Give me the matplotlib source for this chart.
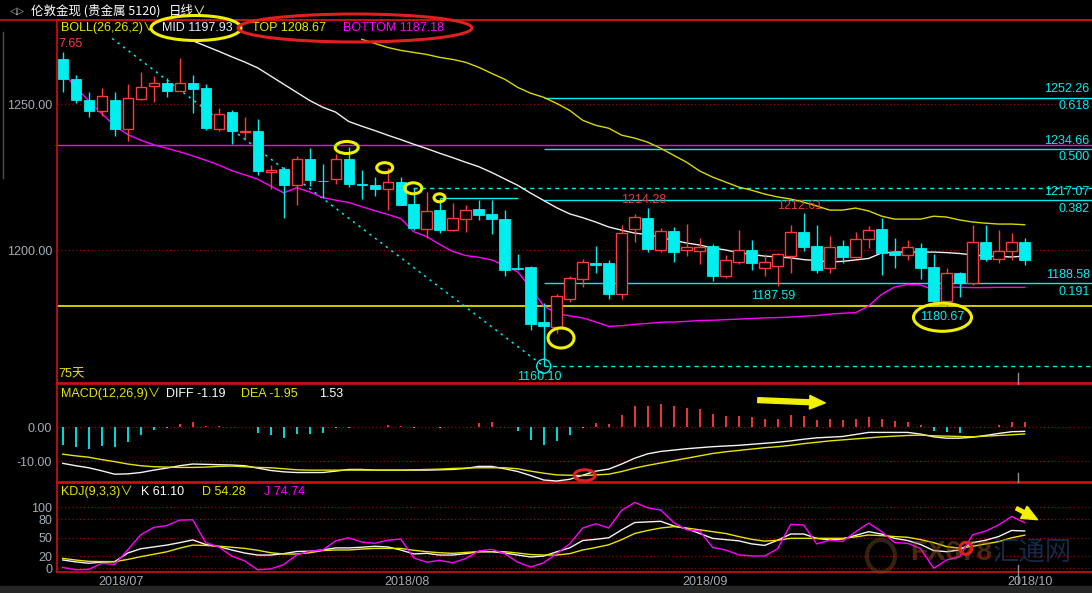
import matplotlib
matplotlib.use('Agg')
import matplotlib.pyplot as plt
from matplotlib.patches import Ellipse, Rectangle, FancyArrowPatch, Circle
from matplotlib.lines import Line2D
import numpy as np

plt.rcParams['font.family'] = ['Liberation Sans', 'Noto Sans CJK SC', 'DejaVu Sans']

# ---------------- data ----------------
opens = [1265.4, 1258.6, 1251.6, 1247.7, 1251.6, 1241.5, 1251.8, 1256.3, 1257.2, 1254.7,
         1257.4, 1255.5, 1241.5, 1247.3, 1240.5, 1240.7, 1226.6, 1227.7, 1222.4, 1231.2,
         1223.8, 1224.4, 1231.4, 1222.6, 1222.2, 1221.0, 1223.5, 1215.8, 1207.1, 1213.7,
         1206.9, 1210.8, 1214.0, 1212.3, 1210.6, 1193.9, 1194.2, 1175.2, 1173.5, 1183.1,
         1189.9, 1195.4, 1195.5, 1185.0, 1207.3, 1211.0, 1200.0, 1206.5, 1200.0, 1199.8,
         1201.4, 1191.1, 1195.9, 1200.0, 1193.9, 1194.6, 1198.0, 1206.1, 1201.4, 1193.8,
         1201.4, 1197.7, 1203.9, 1207.2, 1199.4, 1198.4, 1200.6, 1194.1, 1182.6, 1192.0,
         1188.6, 1202.6, 1197.0, 1199.6, 1202.6]
highs = [1267.9, 1259.9, 1254.1, 1255.5, 1254.1, 1257.0, 1261.0, 1259.6, 1258.9, 1265.8,
         1260.2, 1256.8, 1248.6, 1247.9, 1245.5, 1244.9, 1229.1, 1228.6, 1232.2, 1234.9,
         1229.5, 1233.1, 1235.4, 1227.3, 1224.9, 1228.3, 1224.9, 1221.3, 1219.8, 1217.9,
         1216.0, 1215.6, 1217.1, 1217.1, 1213.7, 1198.6, 1194.5, 1181.7, 1184.9, 1191.0,
         1196.9, 1201.4, 1196.6, 1208.6, 1212.3, 1214.28, 1207.4, 1207.8, 1208.9, 1204.0,
         1202.1, 1198.2, 1206.8, 1203.4, 1198.6, 1199.1, 1208.6, 1212.61, 1208.6, 1204.8,
         1203.4, 1206.2, 1208.2, 1211.0, 1204.0, 1203.3, 1202.3, 1198.6, 1193.7, 1192.5,
         1208.6, 1208.6, 1206.8, 1205.7, 1204.0]
lows = [1254.2, 1250.5, 1245.7, 1246.0, 1239.1, 1237.4, 1251.6, 1250.8, 1252.5, 1254.5,
        1247.0, 1241.3, 1240.9, 1236.4, 1237.6, 1225.7, 1220.8, 1211.1, 1215.5, 1222.1,
        1217.7, 1222.7, 1221.7, 1217.4, 1218.6, 1213.8, 1215.4, 1206.8, 1204.0, 1205.9,
        1206.5, 1206.3, 1210.3, 1205.6, 1191.2, 1193.1, 1172.6, 1160.10, 1171.5, 1182.2,
        1187.4, 1192.2, 1183.2, 1183.2, 1202.8, 1199.4, 1199.4, 1195.9, 1197.9, 1195.2,
        1189.5, 1190.5, 1195.2, 1193.2, 1191.0, 1187.59, 1192.2, 1199.8, 1192.0, 1192.2,
        1195.7, 1197.3, 1200.6, 1191.4, 1193.9, 1196.6, 1190.1, 1181.5, 1180.67, 1184.0,
        1188.0, 1196.2, 1195.4, 1196.6, 1195.0]
closes = [1258.6, 1251.4, 1247.6, 1253.0, 1241.5, 1252.3, 1256.1, 1257.4, 1254.6, 1257.4,
          1255.2, 1241.8, 1246.8, 1240.9, 1240.7, 1227.1, 1227.3, 1222.4, 1231.4, 1224.1,
          1223.6, 1231.4, 1222.5, 1222.4, 1221.0, 1223.5, 1215.4, 1207.6, 1213.3, 1206.8,
          1210.9, 1213.6, 1212.1, 1210.6, 1193.3, 1193.6, 1174.6, 1173.8, 1184.2, 1190.4,
          1195.9, 1195.0, 1185.0, 1205.7, 1211.2, 1200.3, 1206.5, 1199.3, 1200.9, 1200.9,
          1191.1, 1196.6, 1199.9, 1195.7, 1195.9, 1198.6, 1206.1, 1201.1, 1193.2, 1200.9,
          1197.7, 1203.7, 1206.7, 1199.1, 1198.4, 1200.9, 1193.8, 1182.6, 1192.0, 1188.6,
          1202.6, 1197.0, 1199.6, 1202.6, 1196.6]

boll_mid = [None] * 10 + [
    1271.8, 1270.0, 1268.2, 1266.3, 1264.5, 1262.5, 1259.7, 1256.9, 1254.1, 1251.3,
    1249.0, 1247.3, 1244.1, 1242.5, 1241.0, 1239.4, 1237.9, 1236.3, 1234.8, 1233.2,
    1231.7, 1230.1, 1228.6, 1226.6, 1224.4, 1222.2, 1219.5, 1217.0, 1214.5, 1212.4,
    1211.1, 1209.6, 1207.9, 1206.8, 1205.8, 1205.3, 1204.3, 1203.3, 1202.4, 1201.7,
    1200.7, 1200.0, 1199.1, 1198.5, 1197.9, 1197.6, 1197.3, 1196.7, 1196.4, 1195.9,
    1196.1, 1196.6, 1197.1, 1199.0, 1199.3, 1199.3, 1199.3, 1199.3, 1199.1, 1198.8,
    1198.3, 1197.9, 1197.8, 1197.6, 1197.93]
boll_top = [None] * 23 + [
    1272.3, 1270.9, 1269.5, 1268.5, 1267.8, 1267.1, 1266.1, 1265.4, 1264.4, 1262.7,
    1260.6, 1258.6, 1255.8, 1253.8, 1252.4, 1250.3, 1247.9, 1244.5, 1242.8, 1241.8,
    1239.4, 1238.4, 1237.0, 1234.9, 1232.5, 1230.1, 1227.1, 1225.0, 1223.3, 1221.6,
    1220.5, 1219.2, 1218.2, 1217.5, 1216.4, 1215.1, 1213.7, 1213.7, 1214.4, 1213.4,
    1211.6, 1210.6, 1210.6, 1210.6, 1211.6, 1211.3, 1210.3, 1209.6, 1209.2, 1208.9,
    1208.9, 1208.67]
boll_bot = [1261.1, 1255.8, 1251.2, 1246.8, 1242.6, 1239.6, 1237.7, 1236.1, 1234.9, 1233.7,
            1232.3, 1230.8, 1229.2, 1227.2, 1225.8, 1224.3, 1221.9, 1219.6, 1221.4, 1219.9,
            1218.0, 1217.1, 1216.3, 1214.9, 1213.5, 1212.2, 1210.8, 1206.3, 1204.6, 1201.9,
            1199.5, 1198.1, 1197.5, 1196.6, 1194.7, 1192.5, 1187.0, 1180.8, 1178.2, 1177.4,
            1176.7, 1175.3, 1173.8, 1174.0, 1174.5, 1174.8, 1175.2, 1175.3, 1175.5, 1175.8,
            1175.9, 1176.1, 1176.3, 1176.5, 1176.7, 1176.8, 1177.0, 1177.3, 1177.5, 1178.0,
            1178.3, 1178.5, 1180.8, 1184.8, 1187.3, 1188.2, 1188.0, 1186.3, 1187.3, 1187.2,
            1187.1, 1187.1, 1187.2, 1187.2, 1187.18]

macd_hist = [-5.2, -5.7, -6.4, -5.5, -5.7, -4.2, -2.4, -0.8, -0.1, 1.0,
             1.7, 0.5, 0.4, 0.1, 0.1, -1.6, -2.3, -3.0, -2.0, -2.1,
             -1.6, -0.2, -0.1, 0.1, 0.1, 0.7, 0.3, -0.3, 0.1, -0.3,
             0.0, 0.2, 1.2, 1.7, 0.0, -1.1, -3.7, -5.2, -4.0, -2.3,
             -0.1, 1.3, 1.0, 3.6, 6.3, 6.3, 6.9, 6.3, 5.7, 5.4,
             3.9, 3.3, 3.3, 3.0, 2.4, 2.4, 3.6, 3.3, 2.1, 2.4,
             2.1, 2.4, 3.0, 2.4, 1.9, 1.6, 0.7, -1.1, -1.4, -1.7,
             0.0, 0.2, 0.7, 1.6, 1.53]
diff = [-10.6, -11.3, -11.9, -12.8, -13.8, -13.7, -13.3, -12.6, -12.0, -11.3,
        -10.8, -10.9, -11.0, -11.1, -11.3, -12.0, -12.7, -13.1, -13.3, -13.3,
        -13.3, -12.9, -12.4, -12.4, -12.6, -12.6, -12.6, -12.6, -12.6, -12.5,
        -12.4, -12.1, -11.5, -11.5, -12.2, -13.0, -14.2, -15.5, -15.8, -15.3,
        -14.1, -12.9, -12.3, -10.8, -9.1, -7.8, -7.1, -6.7, -6.3, -6.0,
        -5.7, -5.5, -5.3, -5.0, -4.7, -4.4, -4.0, -3.5, -3.1, -2.9,
        -2.7, -2.1, -1.5, -1.5, -1.5, -1.5, -2.0, -2.8, -3.2, -3.2,
        -2.9, -2.4, -1.8, -1.3, -1.19]
dea = [-7.9, -8.4, -8.8, -9.5, -10.1, -10.8, -11.3, -11.6, -11.7, -11.8,
       -11.8, -11.7, -11.5, -11.4, -11.6, -11.8, -11.9, -12.2, -12.5, -12.6,
       -12.6, -12.6, -12.6, -12.6, -12.6, -12.6, -12.6, -12.5, -12.4, -12.3,
       -12.1, -12.0, -11.9, -11.9, -11.9, -12.2, -12.9, -13.5, -14.0, -14.1,
       -14.2, -14.0, -13.8, -13.0, -12.0, -11.2, -10.5, -9.8, -9.1, -8.4,
       -7.7, -7.2, -6.8, -6.4, -6.0, -5.7, -5.3, -4.8, -4.4, -4.0,
       -3.7, -3.4, -3.1, -2.8, -2.6, -2.4, -2.3, -2.5, -2.6, -2.7,
       -2.8, -2.6, -2.4, -2.2, -1.95]

kdj_k = [13.6, 10.5, 8.2, 10.0, 10.9, 25, 32, 35, 38, 42,
         46.5, 39, 35.5, 30, 25, 21.7, 21.7, 24, 27.5, 28,
         30, 33.4, 33.4, 34.5, 36, 35, 30, 23.5, 24.5, 21.7,
         21.7, 24, 27.2, 27.2, 25, 21.7, 18.5, 20, 27, 33.5,
         45.5, 47.5, 50, 63, 75, 76, 77, 69.5, 65, 57,
         49, 47, 45, 40, 37.5, 46, 56.2, 56.2, 49, 46.5,
         48, 54, 60, 56, 49, 45.5, 39, 29, 27.2, 30,
         42, 46, 52, 62, 61.10]
kdj_d = [16.3, 13.5, 11.3, 11.0, 10.9, 14.5, 19, 23, 27, 33,
         38, 37.5, 36.2, 34.5, 32.6, 29.5, 25.5, 23.4, 23.4, 25.5,
         29, 30, 30, 31.5, 32.6, 32.6, 32.6, 29.5, 27.2, 25.5,
         24.5, 26, 27.2, 27.2, 27.2, 25, 22.5, 21.7, 21.7, 24,
         30, 34, 38.5, 47, 57, 62, 66, 68.3, 66, 63,
         60, 57, 52, 47.5, 44.5, 46, 49.1, 49.1, 49.1, 49.1,
         49.1, 51.5, 54.6, 53.5, 52, 50.8, 47, 42, 35.5, 33,
         36, 40, 43.7, 50, 54.28]
kdj_j = [1.4, -2.5, -1.8, 8, 6.5, 30, 55, 67, 70, 79,
         79.5, 42, 35, 20, 12, -2.5, -1, 6, 22, 28,
         30, 45, 50, 43, 41, 46, 48, 17, 10, 13,
         9, 16, 28.5, 31, 24, 10, 2, 9, 24, 40,
         66, 73, 66, 95, 108, 99, 95.6, 75, 63, 61,
         34, 30, 22, 20.2, 20.2, 32, 72, 71, 40, 46,
         44, 60, 74, 60, 42, 41, 32, 0, 13.6, 19,
         55, 61, 71, 85, 74.74]

fib_levels = [1252.26, 1234.66, 1217.07, 1188.58]
fib_ratios = ['0.618', '0.500', '0.382', '0.191']
fib_base = 1160.10
fib_start = 37
magenta_level = 1235.9
yellow_level = 1180.67
dash_level = 1221.2
short_level = 1218.0

date_labels = ['2018/07', '2018/08', '2018/09', '2018/10']
date_pos = [4.5, 26.5, 49.4, 74.4]

# ---------------- figure ----------------
W, H = 1092, 593
fig = plt.figure(figsize=(W / 100, H / 100), dpi=100, facecolor='black')


def fx(x):
    return x / W


def fy(y):
    return 1 - y / H


CYAN = '#00eeee'
RED = '#ff3b3b'
YEL = '#e6e600'
MAG = '#ff00ff'
GRID = '#a00000'
TICK = '#a4acb4'
FS = 9

n = len(opens)
xs = np.arange(n)
XL = (-0.44, 79.18)

ax1 = fig.add_axes([fx(57), fy(383), fx(W - 57), (383 - 20) / H])
ax2 = fig.add_axes([fx(57), fy(482), fx(W - 57), (482 - 384) / H])
ax3 = fig.add_axes([fx(57), fy(572), fx(W - 57), (572 - 483) / H])

for ax in (ax1, ax2, ax3):
    ax.set_facecolor('black')
    ax.set_xlim(*XL)
    for s in ('left', 'top', 'bottom'):
        ax.spines[s].set_color('#d01010')
        ax.spines[s].set_linewidth(1.2)
    ax.spines['right'].set_visible(False)
    ax.tick_params(axis='both', length=0, colors=TICK, labelsize=FS, pad=3.5)
    ax.set_xticks([])

# ---- main panel ----
ax1.set_ylim(1154.36, 1278.93)
ax1.set_yticks([1200, 1250])
ax1.set_yticklabels(['1200.00', '1250.00'])
for lv in (1200, 1250):
    ax1.axhline(lv, color=GRID, ls=(0, (1, 2)), lw=0.9, zorder=1)

ax1.axhline(magenta_level, color=MAG, lw=1.0, zorder=2)
ax1.axhline(yellow_level, color='#f0f000', lw=1.2, zorder=2)
ax1.hlines(dash_level, 26.95, XL[1], color=CYAN, ls=(0, (3, 3)), lw=1.0, zorder=2)
ax1.hlines(short_level, 29.0, 35.0, color=CYAN, lw=1.0, zorder=2)
for lv, rt in zip(fib_levels, fib_ratios):
    ax1.hlines(lv, fib_start, XL[1], color=CYAN, lw=1.0, zorder=2)
    ax1.annotate(f'{lv:.2f}', xy=(79.0, lv), xytext=(0, 6), textcoords='offset points',
                 ha='right', va='center', color=CYAN, fontsize=FS)
    ax1.annotate(rt, xy=(79.0, lv), xytext=(0, -6), textcoords='offset points',
                 ha='right', va='center', color=CYAN, fontsize=FS)
ax1.hlines(fib_base, fib_start, XL[1], color=CYAN, ls=(0, (3, 3)), lw=1.0, zorder=2)

# trend line
ax1.plot([3.8, fib_start], [1272.6, fib_base], color=CYAN, ls=(0, (1.5, 3)), lw=1.1, zorder=2)

# bollinger
def series(vals):
    return np.array([np.nan if v is None else v for v in vals], dtype=float)

ax1.plot(xs, series(boll_mid), color='#f0f0f0', lw=1.0, zorder=3)
ax1.plot(xs, series(boll_top), color='#d8d800', lw=1.0, zorder=3)
ax1.plot(xs, series(boll_bot), color=MAG, lw=1.0, zorder=3)

# candles
for i in range(n):
    o, h, l, c = opens[i], highs[i], lows[i], closes[i]
    up = c > o
    col = RED if up else CYAN
    ax1.vlines(i, l, h, color=col, lw=1.0, zorder=4)
    bot = min(o, c)
    ht = max(abs(c - o), 0.25)
    if up:
        ax1.bar(i, ht, width=0.8, bottom=bot, facecolor='black', edgecolor=RED, lw=1.0, zorder=5)
    else:
        ax1.bar(i, ht, width=0.8, bottom=bot, facecolor=CYAN, edgecolor=CYAN, lw=0.6, zorder=5)

# value markers
ax1.annotate(f'{highs[45]:.2f}', xy=(45, highs[45]), xytext=(-3, 6), textcoords='offset points',
             ha='center', va='center', color='#e84040', fontsize=FS)
ax1.annotate(f'{highs[57]:.2f}', xy=(57, highs[57]), xytext=(-3, 5), textcoords='offset points',
             ha='center', va='center', color='#e84040', fontsize=FS)
ax1.annotate(f'{lows[55]:.2f}', xy=(55, lows[55]), xytext=(-3, -7), textcoords='offset points',
             ha='center', va='center', color=CYAN, fontsize=FS)
ax1.annotate(f'{lows[68]:.2f}', xy=(68, lows[68]), xytext=(-3, -8), textcoords='offset points',
             ha='center', va='center', color=CYAN, fontsize=FS)
ax1.annotate(f'{lows[37]:.2f}', xy=(37, lows[37]), xytext=(-3, -7.5), textcoords='offset points',
             ha='center', va='center', color=CYAN, fontsize=FS)
ax1.add_patch(Ellipse((37, fib_base), 14 / 13, 14 / 2.914, fill=False, ec=CYAN, lw=1.0, zorder=6))

ax1.text(0.001, 0.025, '75天', transform=ax1.transAxes, color=YEL, fontsize=FS,
         ha='left', va='center')
ax1.text(0.001, 0.935, '7.65', transform=ax1.transAxes, color=RED, fontsize=FS,
         ha='left', va='center')

# ---- MACD panel ----
ax2.set_ylim(-16.09, 12.74)
ax2.set_yticks([0, -10])
ax2.set_yticklabels(['0.00', '-10.00'])
for lv in (0, -10):
    ax2.axhline(lv, color=GRID, ls=(0, (1, 2)), lw=0.9, zorder=1)
hist_cols = [RED if v > 0 else CYAN for v in macd_hist]
ax2.vlines(xs, 0, macd_hist, colors=hist_cols, lw=1.3, zorder=3)
ax2.plot(xs, diff, color='#f4f4f4', lw=1.0, zorder=4)
ax2.plot(xs, dea, color='#e6e600', lw=1.0, zorder=4)

# ---- KDJ panel ----
ax3.set_ylim(-6.1, 139.8)
ax3.set_yticks([0, 20, 50, 80, 100])
ax3.set_yticklabels(['0', '20', '50', '80', '100'])
for lv in (0, 20, 50, 80, 100):
    ax3.axhline(lv, color=GRID, ls=(0, (1, 2)), lw=0.9, zorder=1)
ax3.plot(xs, kdj_k, color='#f4f4f4', lw=1.0, zorder=4)
ax3.plot(xs, kdj_d, color='#e6e600', lw=1.0, zorder=4)
ax3.plot(xs, kdj_j, color=MAG, lw=1.0, zorder=4)
ax3.set_xticks(date_pos)
ax3.set_xticklabels(date_labels)
ax3.tick_params(axis='x', pad=3, colors=TICK, labelsize=FS)

# watermark
fig.text(fx(910), fy(553), 'FX678', color='#a05a20', alpha=0.45, fontsize=20,
         ha='left', va='center', fontweight='bold')
fig.text(fx(993), fy(553), '汇通网', color='#2a4a80', alpha=0.55, fontsize=19,
         ha='left', va='center', family=['Noto Sans CJK SC'])
fig.patches.append(Ellipse((fx(881), fy(556)), 28 / W, 32 / H, transform=fig.transFigure,
                           fill=False, ec='#7a4a20', lw=3, alpha=0.45))

# ---------------- header / decorations ----------------
fig.add_artist(Line2D([0, 1], [fy(20), fy(20)], color='#d01010', lw=1.2))
fig.add_artist(Line2D([fx(3), fx(3)], [fy(32), fy(178)], color='#505050', lw=1.0))
fig.patches.append(Rectangle((0, 0), 1, 7 / H, transform=fig.transFigure,
                             color='#262626', zorder=0))
fig.text(fx(10), fy(11), '◁▷', color='#b0b0b0', fontsize=7, ha='left', va='center',
         family=['DejaVu Sans'])
fig.text(fx(31), fy(11), '伦敦金现 (贵金属 5120)', color='white', fontsize=9,
         ha='left', va='center', family=['Noto Sans CJK SC', 'DejaVu Sans'])
fig.text(fx(169), fy(11), '日线∨', color='white', fontsize=9,
         ha='left', va='center', family=['Noto Sans CJK SC', 'DejaVu Sans'])

fig.text(fx(61), fy(28), 'BOLL(26,26,2)∨', color=YEL, fontsize=FS, ha='left', va='center')
fig.text(fx(162), fy(28), f'MID {boll_mid[-1]:.2f}', color='#dfefff', fontsize=FS, ha='left', va='center')
fig.text(fx(252), fy(28), f'TOP {boll_top[-1]:.2f}', color=YEL, fontsize=FS, ha='left', va='center')
fig.text(fx(343), fy(28), f'BOTTOM {boll_bot[-1]:.2f}', color=MAG, fontsize=FS, ha='left', va='center')

fig.text(fx(61), fy(394), 'MACD(12,26,9)∨', color=YEL, fontsize=FS, ha='left', va='center')
fig.text(fx(166), fy(394), f'DIFF {diff[-1]:.2f}', color='white', fontsize=FS, ha='left', va='center')
fig.text(fx(241), fy(394), f'DEA {dea[-1]:.2f}', color=YEL, fontsize=FS, ha='left', va='center')
fig.text(fx(319), fy(394), f'{macd_hist[-1]:.2f}', color='white', fontsize=FS, ha='left', va='center')

fig.text(fx(61), fy(492), 'KDJ(9,3,3)∨', color=YEL, fontsize=FS, ha='left', va='center')
fig.text(fx(141), fy(492), f'K {kdj_k[-1]:.2f}', color='white', fontsize=FS, ha='left', va='center')
fig.text(fx(202), fy(492), f'D {kdj_d[-1]:.2f}', color=YEL, fontsize=FS, ha='left', va='center')
fig.text(fx(264), fy(492), f'J {kdj_j[-1]:.2f}', color=MAG, fontsize=FS, ha='left', va='center')


def fig_ellipse(cx, cy, w, h, color, lw=2.2):
    fig.patches.append(Ellipse((fx(cx), fy(cy)), w / W, h / H, transform=fig.transFigure,
                               fill=False, ec=color, lw=lw, zorder=10))


fig_ellipse(196, 28, 90, 25, '#f0f000')
fig_ellipse(355, 28, 234, 28, '#e02020')
fig_ellipse(346.7, 147.5, 23, 12, '#f0f000')
fig_ellipse(384.7, 167.7, 16, 10, '#f0f000')
fig_ellipse(413.3, 188.3, 17, 11, '#f0f000')
fig_ellipse(439.5, 197.8, 11, 8, '#f0f000')
fig_ellipse(561, 338, 26, 20, '#f0f000')
fig_ellipse(942.5, 317.3, 58, 28, '#f0f000')
fig_ellipse(584.7, 475.3, 21, 11, '#e02020')
fig_ellipse(965.8, 548.3, 12, 12, '#e02020')

fig.patches.append(FancyArrowPatch((fx(755), fy(400)), (fx(828), fy(403)),
                                   transform=fig.transFigure, color='#f0f000',
                                   arrowstyle='simple,head_width=1.4,head_length=1.6,tail_width=0.5',
                                   mutation_scale=7, zorder=10))
fig.patches.append(FancyArrowPatch((fx(1014), fy(507)), (fx(1040), fy(521)),
                                   transform=fig.transFigure, color='#f0f000',
                                   arrowstyle='simple,head_width=1.4,head_length=1.6,tail_width=0.35',
                                   mutation_scale=7, zorder=10))

for y0, y1 in ((373, 384), (473, 482), (565, 583)):
    fig.add_artist(Line2D([fx(1018), fx(1018)], [fy(y0), fy(y1)], color='#909090', lw=1.0))

fig.savefig('out.png', dpi=100, facecolor='black')
